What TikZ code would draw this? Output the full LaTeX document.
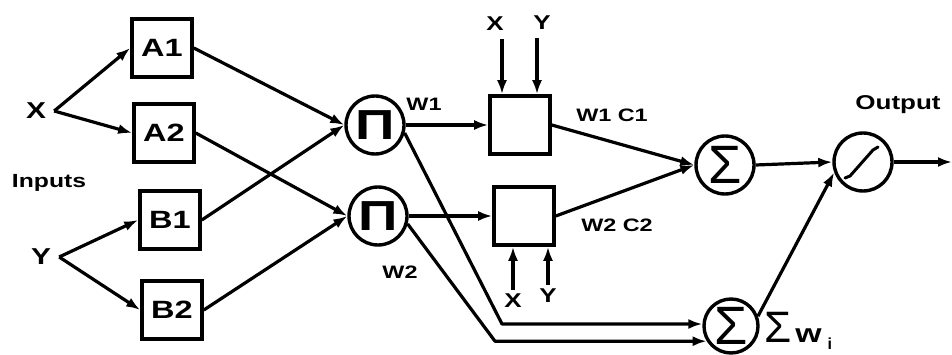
\documentclass[tikz,border=0pt]{standalone}
\usepackage{fontspec}
\setmainfont{Liberation Sans}
\newfontfamily\lblfont{Liberation Sans}[FakeStretch=1.3]
\usetikzlibrary{arrows.meta,calc}
\begin{document}
\begin{tikzpicture}[x=1pt,y=-1pt,
  lbl/.style={font=\lblfont\bfseries\fontsize{#1}{#1}\selectfont, inner sep=0pt},
  lbl/.default=20,
  box/.style={draw, line width=3.6pt, minimum width=60pt, minimum height=58pt, inner sep=0pt,
    font=\lblfont\bfseries\fontsize{25}{25}\selectfont},
  circ/.style={draw, circle, line width=3.4pt, minimum size=58pt, inner sep=0pt},
  pinode/.style={circ, font=\lblfont\bfseries\fontsize{42}{42}\selectfont},
  signode/.style={circ, font=\fontsize{54}{54}\selectfont},
  conn/.style={line width=3.2pt, line join=round},
  arr/.style={conn, -{Latex[length=14pt,width=10pt]}}]
\useasboundingbox (0,0) rectangle (952,355);

% inputs
\node[lbl=23] (X) at (36,111) {X};
\node[lbl=23] (Y) at (41,257) {Y};
\node[lbl=19] (inp) at (49,183) {Inputs};

% membership boxes
\node[box] (A1) at (162,48) {A1};
\node[box] (A2) at (164,133) {A2};
\node[box] (B1) at (170,220) {B1};
\node[box] (B2) at (172,310) {B2};

% product nodes
\node[pinode] (P1) at (375,125) {Π};
\node[pinode] (P2) at (378,216) {Π};
\node[lbl=18] (W1) at (424,104) {W1};
\node[lbl=18] (W2) at (400,272) {W2};

% consequent boxes
\node[box] (C1) at (520,125) {};
\node[box] (C2) at (524,216) {};
\node[lbl=20] (Xt) at (495,24) {X};
\node[lbl=20] (Yt) at (542,23) {Y};
\node[lbl=20] (Xb) at (513,301) {X};
\node[lbl=20] (Yb) at (548,296) {Y};
\node[lbl=18] (WC1) at (612,115) {W1 C1};
\node[lbl=18] (WC2) at (617,225) {W2 C2};

% sums and output
\node[signode] (S1) at (725,165) {Σ};
\node[signode, minimum size=54pt] (S2) at (731,326) {Σ};
\node[circ] (O) at (863,162) {};
\node[lbl=20] (outl) at (898,105) {Output};
\node[anchor=west, inner sep=0pt] (sw) at (764,331)
  {{\fontsize{44}{44}\selectfont Σ}\hspace{4pt}{\lblfont\bfseries\fontsize{26}{26}\selectfont w}\hspace{6pt}\raisebox{-7pt}{\bfseries\fontsize{16}{16}\selectfont i}};
\coordinate (end) at (952,162);

% linear activation glyph
\draw[line width=3pt, line join=round, line cap=round]
  ($(O)+(-18,16)$) -- ($(O)+(-13,14)$) -- ($(O)+(10,-12)$) -- ($(O)+(15,-15)$);

% connectors
\draw[arr] ([xshift=8pt]X.east) -- (A1.west);
\draw[arr] ([xshift=8pt]X.east) -- (A2.west);
\draw[arr] ([xshift=8pt]Y.east) -- (B1.west);
\draw[arr] ([xshift=8pt]Y.east) -- (B2.west);
\draw[arr] (A1.east) -- (P1.west);
\draw[arr] (B1.east) -- (P1.west);
\draw[arr] (A2.east) -- (P2.west);
\draw[arr] (B2.east) -- (P2.west);
\draw[arr] (P1.east) -- (C1.west);
\draw[arr] (P2.east) -- (C2.west);
\draw[arr] ([xshift=7pt,yshift=-8pt]Xt.south) -- ([xshift=7pt]Xt.south |- C1.north);
\draw[arr] ([xshift=-5pt,yshift=-8pt]Yt.south) -- ([xshift=-5pt]Yt.south |- C1.north);
\draw[arr] ([yshift=4pt]Xb.north) -- (Xb.north |- C2.south);
\draw[arr] ([yshift=4pt]Yb.north) -- (Yb.north |- C2.south);
\draw[arr] (P1.-15) -- (S2.176 -| 502,0) -- (S2.176);
\draw[arr] (P2.-15) -- (S2.212 -| 495,0) -- (S2.212);
\draw[arr] (C1.east) -- (S1.west);
\draw[arr] (C2.east) -- (S1.west);
\draw[arr] (S1.east) -- (O.west);
\draw[arr] (S2.20) -- (O.200);
\draw[arr] (O.east) -- (end);
\end{tikzpicture}
\end{document}
